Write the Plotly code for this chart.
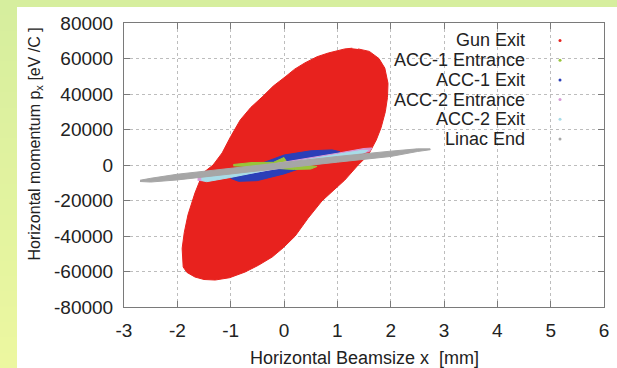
import plotly.graph_objects as go

# ---------------- data ----------------
# Beam envelopes in phase space: x [mm], p_x [eV/C]
gun_x = [1.39, 1.60, 1.78, 1.89, 1.95, 1.94, 1.90, 1.82, 1.73, 1.58, 1.39, 1.14, 0.92, 0.71,
         0.45, 0.21, -0.01, -0.22, -0.48, -0.73, -1.02, -1.29, -1.50, -1.67, -1.82, -1.89,
         -1.91, -1.87, -1.80, -1.67, -1.52, -1.33, -1.16, -1.00, -0.82, -0.62, -0.41, -0.20,
         0.02, 0.20, 0.39, 0.62, 0.83, 1.00, 1.14, 1.28]
gun_px = [65400, 64000, 60000, 54600, 46000, 38000, 30000, 21000, 14100, 5600, 0, -8500,
          -14500, -20300, -30000, -40000, -46500, -51800, -56500, -60300, -63500, -64800,
          -64500, -63100, -60500, -57500, -47000, -38000, -28000, -15800, -4500, 0, 6800,
          16000, 25400, 32500, 38300, 44500, 49600, 54000, 57500, 61000, 63100, 64600,
          65400, 65800]

acc1_exit_x = [-1.0, -0.5, 0.0, 0.5, 0.9, 1.05, 0.9, 0.5, 0.0, -0.5, -0.85, -1.0]
acc1_exit_px = [-5500, 0, 5600, 8000, 8500, 7500, 4500, 0, -5000, -8800, -9200, -7500]

acc1_ent_x = [-0.95, -0.6, -0.2, -0.04, 0.0, 0.06, 0.3, 0.62, 0.5, 0.2, 0.0, -0.3, -0.6, -0.95]
acc1_ent_px = [300, 1400, 1500, 3600, 4200, 1200, 500, -800, -2300, -2500, -2200, -1500, -900, -500]

acc2_ent_x = [-1.62, -1.0, 0.0, 1.0, 1.5, 1.65, 1.6, 1.0, 0.0, -1.0, -1.5, -1.62]
acc2_ent_px = [-7000, -3600, 1600, 6600, 9300, 9600, 7600, 3600, -1600, -6600, -9000, -8600]

acc2_exit_x = [-1.55, -1.0, 0.0, 1.0, 1.45, 1.57, 1.5, 1.0, 0.0, -1.0, -1.45, -1.55]
acc2_exit_px = [-7200, -4500, 800, 6000, 8200, 8200, 6800, 4000, -1000, -7000, -9400, -8600]

linac_x = [-2.70, -2.5, -2.0, -1.0, 0.0, 1.0, 2.0, 2.5, 2.74, 2.74, 2.5, 2.0, 1.0, 0.0,
           -1.0, -2.0, -2.5, -2.70]
linac_px = [-8600, -7500, -5200, -1800, 1500, 4800, 7800, 9100, 9100, 8600, 7600, 4800,
            1600, -1800, -5000, -8400, -9600, -9300]

series_names = ["Gun Exit", "ACC-1 Entrance", "ACC-1 Exit", "ACC-2 Entrance",
                "ACC-2 Exit", "Linac End"]
series_colors = ["#e8221e", "#98c43a", "#2b3fb8", "#d69ad6", "#a8dce8", "#a6a6a6"]

x_tick_vals = [-3, -2, -1, 0, 1, 2, 3, 4, 5, 6]
x_tick_labels = ["-3", "-2", "-1", "0", "1", "2", "3", "4", "5", "6"]
y_tick_vals = [-80000, -60000, -40000, -20000, 0, 20000, 40000, 60000, 80000]
y_tick_labels = ["-80000", "-60000", "-40000", "-20000", "0", "20000", "40000",
                 "60000", "80000"]

# ---------------- figure ----------------
W, H = 617, 368
L, R, T, B = 124, 13, 23, 61
PW, PH = W - L - R, H - T - B

def px_x(p):
    return (p - L) / PW

def px_y(p):
    return (H - B - p) / PH

fig = go.Figure()

# draw order: red, blue, green, pink, cyan, grey
order = [
    (gun_x, gun_px, 0),
    (acc1_exit_x, acc1_exit_px, 2),
    (acc1_ent_x, acc1_ent_px, 1),
    (acc2_ent_x, acc2_ent_px, 3),
    (acc2_exit_x, acc2_exit_px, 4),
    (linac_x, linac_px, 5),
]
for xs, ys, i in order:
    fig.add_trace(go.Scatter(
        x=xs, y=ys, mode="lines", fill="toself", name=series_names[i],
        line=dict(color=series_colors[i], width=1),
        fillcolor=series_colors[i], showlegend=False, hoverinfo="name"))

shapes = []
# outer yellow-green gradient background
top_c = (214, 238, 158)
bot_c = (236, 247, 160)
nb = 24
for k in range(nb):
    t = k / (nb - 1)
    c = tuple(int(round(top_c[j] + (bot_c[j] - top_c[j]) * t)) for j in range(3))
    y0p = k * H / nb
    y1p = (k + 1) * H / nb + 1
    shapes.append(dict(type="rect", xref="paper", yref="paper", layer="below",
                       x0=px_x(0), x1=px_x(W + 2), y0=px_y(y1p), y1=px_y(y0p),
                       line=dict(width=0), fillcolor="rgb(%d,%d,%d)" % c))
# white panel
shapes.append(dict(type="rect", xref="paper", yref="paper", layer="below",
                   x0=px_x(17), x1=px_x(W + 2), y0=px_y(H + 2), y1=px_y(7),
                   line=dict(width=0), fillcolor="white"))

annotations = []
font_fam = "Liberation Sans, Arial, sans-serif"
txt_col = "#222222"
# legend (text right-aligned, dot on the right, as in gnuplot)
for i, name in enumerate(series_names):
    py = 40.5 + 19.7 * i
    annotations.append(dict(xref="paper", yref="paper", x=px_x(527), y=px_y(py),
                            xanchor="right", yanchor="middle", text=name, showarrow=False,
                            font=dict(family=font_fam, size=18, color=txt_col)))
    r = 1.5
    shapes.append(dict(type="circle", xref="paper", yref="paper", layer="above",
                       x0=px_x(560 - r), x1=px_x(560 + r), y0=px_y(py + r), y1=px_y(py - r),
                       line=dict(width=0), fillcolor=series_colors[i]))

# axis titles
annotations.append(dict(xref="paper", yref="paper", x=0.5, y=px_y(358),
                        xanchor="center", yanchor="middle",
                        text="Horizontal Beamsize x  [mm]", showarrow=False,
                        font=dict(family=font_fam, size=18, color=txt_col)))
annotations.append(dict(xref="paper", yref="paper", x=px_x(35), y=px_y(144.5),
                        xanchor="center", yanchor="middle", textangle=-90,
                        text="Horizontal momentum p<sub>x</sub> [eV /C ]", showarrow=False,
                        font=dict(family=font_fam, size=16, color=txt_col)))

axis_common = dict(showline=True, linecolor="#7a7a7a", linewidth=1, mirror="ticks",
                   ticks="inside", ticklen=6, tickcolor="#7a7a7a", tickwidth=1,
                   showgrid=True, gridcolor="#bdbdbd", griddash="dot", gridwidth=1,
                   zeroline=False, tickmode="array",
                   tickfont=dict(family=font_fam, size=19, color=txt_col))

fig.update_layout(
    width=W, height=H, margin=dict(l=L, r=R, t=T, b=B, autoexpand=False),
    paper_bgcolor="rgb(225,242,159)", plot_bgcolor="white",
    showlegend=False, shapes=shapes, annotations=annotations,
    xaxis=dict(range=[-3, 6], tickvals=x_tick_vals, ticktext=x_tick_labels,
               ticklabelstandoff=6, **axis_common),
    yaxis=dict(range=[-80000, 80000], tickvals=y_tick_vals, ticktext=y_tick_labels,
               ticklabelstandoff=6, **axis_common),
)

fig.write_html("out.html")
